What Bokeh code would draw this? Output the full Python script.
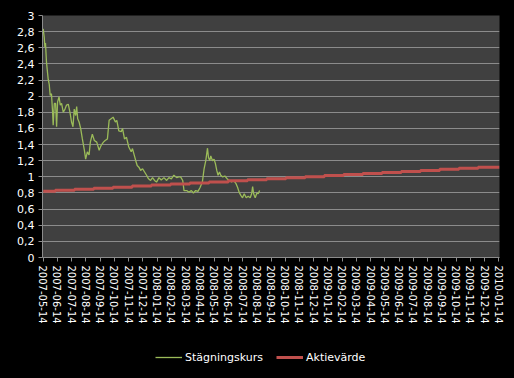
from bokeh.plotting import figure
from bokeh.models import Range1d, FixedTicker, Legend, LegendItem
from bokeh.layouts import column
from bokeh.embed import file_html
from bokeh.resources import INLINE

# ---- data ----
tick_labels = [
    "2007-05-14", "2007-06-14", "2007-07-14", "2007-08-14", "2007-09-14", "2007-10-14",
    "2007-11-14", "2007-12-14", "2008-01-14", "2008-02-14", "2008-03-14", "2008-04-14",
    "2008-05-14", "2008-06-14", "2008-07-14", "2008-08-14", "2008-09-14", "2008-10-14",
    "2008-11-14", "2008-12-14", "2009-01-14", "2009-02-14", "2009-03-14", "2009-04-14",
    "2009-05-14", "2009-06-14", "2009-07-14", "2009-08-14", "2009-09-14", "2009-10-14",
    "2009-11-14", "2009-12-14", "2010-01-14",
]

series_names = ["Stägningskurs", "Aktievärde"]

# x in months since 2007-05-14
green_x = [
    0.00, 0.07, 0.12, 0.16, 0.23, 0.35, 0.42, 0.49, 0.58, 0.66, 0.70, 0.78, 0.87, 0.94,
    1.01, 1.11, 1.20, 1.29, 1.41, 1.53, 1.64, 1.76, 1.88, 1.99, 2.09, 2.18, 2.28, 2.35,
    2.42, 2.52, 2.63, 2.75, 2.89, 2.98, 3.10, 3.22, 3.31, 3.45, 3.59, 3.76, 3.93, 4.07,
    4.23, 4.35, 4.51, 4.63, 4.77, 4.91, 5.07, 5.17, 5.31, 5.48, 5.57, 5.71, 5.85, 6.01,
    6.18, 6.27, 6.36, 6.50, 6.60, 6.72, 6.84, 6.98, 7.12, 7.26, 7.40, 7.54, 7.68, 7.82,
    7.96, 8.13, 8.29, 8.48, 8.67, 8.83, 9.00, 9.18, 9.37, 9.53, 9.65, 9.80, 9.89, 10.08,
    10.24, 10.41, 10.55, 10.71, 10.87, 11.01, 11.18, 11.30, 11.42, 11.54, 11.61, 11.70,
    11.77, 11.89, 12.00, 12.10, 12.19, 12.28, 12.38, 12.47, 12.59, 12.76, 12.90, 13.06,
    13.23, 13.37, 13.53, 13.65, 13.76, 13.88, 14.00, 14.12, 14.26, 14.40, 14.54, 14.64,
    14.71, 14.78, 14.89, 15.01, 15.10, 15.20,
]
green_y = [
    2.835, 2.73, 2.61, 2.66, 2.42, 2.21, 2.15, 2.01, 2.03, 1.80, 1.64, 1.91, 1.91, 1.62,
    1.93, 1.99, 1.89, 1.91, 1.80, 1.84, 1.89, 1.90, 1.80, 1.68, 1.62, 1.84, 1.76, 1.87,
    1.72, 1.68, 1.60, 1.47, 1.33, 1.22, 1.31, 1.27, 1.43, 1.53, 1.45, 1.43, 1.33, 1.39,
    1.43, 1.45, 1.47, 1.70, 1.72, 1.74, 1.68, 1.70, 1.57, 1.56, 1.60, 1.47, 1.49, 1.37,
    1.31, 1.35, 1.29, 1.20, 1.14, 1.12, 1.08, 1.10, 1.06, 1.02, 0.975, 0.955, 0.99, 0.955,
    0.935, 0.99, 0.96, 0.99, 0.955, 0.99, 0.975, 1.02, 0.99, 1.00, 1.00, 0.955, 0.83, 0.83,
    0.81, 0.83, 0.80, 0.83, 0.82, 0.865, 0.935, 1.10, 1.20, 1.355, 1.24, 1.20,
    1.26, 1.20, 1.22, 1.16, 1.08, 1.02, 1.06, 1.02, 1.00, 1.01, 0.98, 0.955,
    0.935, 0.955, 0.92, 0.87, 0.81, 0.77, 0.74, 0.79, 0.74, 0.76, 0.74, 0.79,
    0.88, 0.79, 0.74, 0.80, 0.79, 0.83,
]

red_x = [0, 0.85, 2.2, 3.55, 4.9, 6.25, 7.6, 8.95, 10.3, 11.65, 13.0, 14.35, 15.7,
         17.05, 18.4, 19.75, 21.1, 22.45, 23.8, 25.15, 26.5, 27.85, 29.2, 30.55, 32.05]
red_y = [0.82, 0.833, 0.846, 0.859, 0.872, 0.885, 0.898, 0.911, 0.924, 0.937, 0.950,
         0.963, 0.976, 0.989, 1.002, 1.015, 1.028, 1.041, 1.054, 1.067, 1.080, 1.093,
         1.106, 1.119, 1.119]

y_ticks = [0, 0.2, 0.4, 0.6, 0.8, 1, 1.2, 1.4, 1.6, 1.8, 2, 2.2, 2.4, 2.6, 2.8, 3]

GREEN = "#9bbb59"
RED = "#c0504d"
BLACK_BG = {"background-color": "#000000"}

# ---- main chart ----
p = figure(width=514, height=340, output_backend="svg", toolbar_location=None,
           x_range=Range1d(-0.05, 32.05), y_range=Range1d(0, 3), styles=BLACK_BG)
p.min_border_left = 42
p.min_border_right = 15
p.min_border_top = 15
p.min_border_bottom = 83
p.background_fill_color = "#404040"
p.border_fill_color = "#000000"
p.outline_line_color = None

p.xaxis.ticker = FixedTicker(ticks=list(range(len(tick_labels))))
p.xaxis.major_label_overrides = {i: s for i, s in enumerate(tick_labels)}
p.xaxis.major_label_orientation = "vertical"
p.yaxis.ticker = FixedTicker(ticks=y_ticks)
p.yaxis.major_label_overrides = {t: (f"{t:g}".replace(".", ",")) for t in y_ticks}

for ax in (p.xaxis[0], p.yaxis[0]):
    ax.axis_line_color = "#8c8c8c"
    ax.major_tick_line_color = "#8c8c8c"
    ax.major_tick_in = 0
    ax.major_tick_out = 4
    ax.minor_tick_line_color = None
    ax.major_label_text_color = "#ffffff"
    ax.major_label_text_font = "DejaVu Sans"
    ax.major_label_standoff = 4
p.xaxis.major_label_text_font_size = "10px"
p.yaxis.major_label_text_font_size = "11px"

p.xgrid.grid_line_color = None
p.ygrid.grid_line_color = "#8c8c8c"
p.ygrid.grid_line_width = 1

p.line(green_x, green_y, line_color=GREEN, line_width=1.3)
p.step(red_x, red_y, mode="after", line_color=RED, line_width=3)

# ---- legend strip below (series drawn out of view, only legend shows) ----
q = figure(width=514, height=38, output_backend="svg", toolbar_location=None,
           x_axis_location=None, y_axis_location=None,
           x_range=Range1d(-0.05, 32.05), y_range=Range1d(100, 101), styles=BLACK_BG)
q.min_border = 0
q.xgrid.grid_line_color = None
q.ygrid.grid_line_color = None
q.outline_line_color = None
q.background_fill_color = "#000000"
q.border_fill_color = "#000000"
lg = q.line(green_x, green_y, line_color=GREEN, line_width=1.3)
lr = q.line(red_x, red_y, line_color=RED, line_width=3)
legend = Legend(items=[LegendItem(label=series_names[0], renderers=[lg]),
                       LegendItem(label=series_names[1], renderers=[lr])],
                orientation="horizontal", location=(113, 11),
                background_fill_alpha=0, border_line_color=None,
                label_text_color="#ffffff", label_text_font="DejaVu Sans",
                label_text_font_size="11px", glyph_width=27, spacing=13,
                label_standoff=3, padding=0, margin=0)
q.add_layout(legend, "center")

layout = column(p, q, spacing=0, styles=BLACK_BG)
open("out.html", "w").write(file_html(layout, INLINE))
